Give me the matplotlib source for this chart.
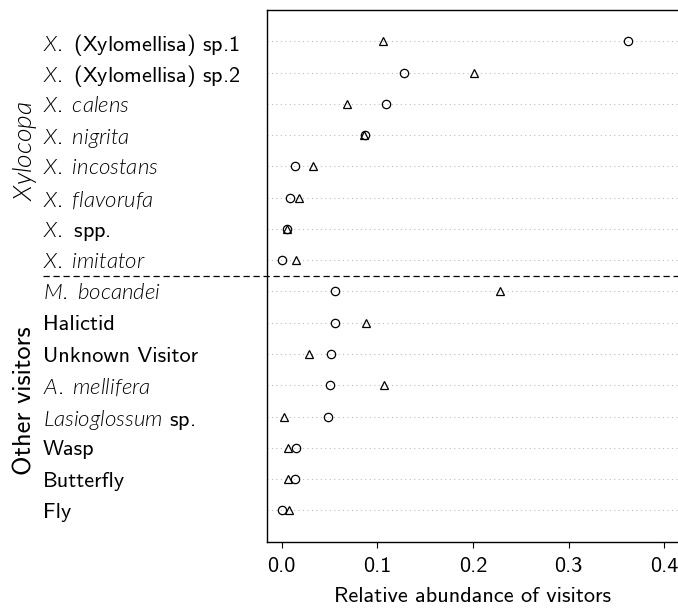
import matplotlib
matplotlib.use("Agg")
import matplotlib.pyplot as plt
import matplotlib.transforms as mtransforms
import numpy as np

# Computer Modern Sans for upright text, a light sans italic for the species names
plt.rcParams['font.family'] = 'cmss10'
plt.rcParams['mathtext.fontset'] = 'custom'
plt.rcParams['mathtext.rm'] = 'cmss10'
plt.rcParams['mathtext.it'] = 'Lato:italic:weight=300'
plt.rcParams['axes.unicode_minus'] = False

visitors = [
    r'$\mathit{X.}$ (Xylomellisa) sp.1',
    r'$\mathit{X.}$ (Xylomellisa) sp.2',
    r'$\mathit{X.\ calens}$',
    r'$\mathit{X.\ nigrita}$',
    r'$\mathit{X.\ incostans}$',
    r'$\mathit{X.\ flavorufa}$',
    r'$\mathit{X.}$ spp.',
    r'$\mathit{X.\ imitator}$',
    r'$\mathit{M.\ bocandei}$',
    'Halictid',
    'Unknown Visitor',
    r'$\mathit{A.\ mellifera}$',
    r'$\mathit{Lasioglossum}$ sp.',
    'Wasp',
    'Butterfly',
    'Fly',
]

# relative abundance, two series (open circles / open triangles)
series_circle = [0.362, 0.128, 0.109, 0.087, 0.014, 0.009, 0.005, 0.000,
                 0.056, 0.056, 0.052, 0.050, 0.048, 0.015, 0.014, 0.000]
series_triangle = [0.106, 0.201, 0.068, 0.086, 0.033, 0.018, 0.005, 0.015,
                   0.228, 0.088, 0.029, 0.107, 0.002, 0.007, 0.007, 0.008]

groups = [r'$\mathit{Xylocopa}$', 'Other visitors']
group_sizes = [8, 8]

fig = plt.figure(figsize=(6.78, 6.08), dpi=100)
ax = fig.add_axes([267 / 678, 66.3 / 608, 411 / 678, 531.7 / 608])

rows = np.arange(1, len(visitors) + 1)

ax.plot(series_circle, rows, linestyle='none', marker='o', markersize=6,
        markerfacecolor='none', markeredgecolor='black', markeredgewidth=0.9,
        zorder=3)
ax.plot(series_triangle, rows, linestyle='none', marker='^', markersize=5.5,
        markerfacecolor='none', markeredgecolor='black', markeredgewidth=0.9,
        zorder=3)

ax.set_ylim(len(visitors) + 1, 0)
ax.set_xlim(-0.0154, 0.4145)

ax.set_yticks(rows)
ax.set_yticklabels(visitors, fontsize=16)
ax.tick_params(axis='y', length=0, pad=161.3)
for lbl in ax.get_yticklabels():
    lbl.set_horizontalalignment('left')

ax.set_xticks([0.0, 0.1, 0.2, 0.3, 0.4])
ax.set_xticklabels(['0.0', '0.1', '0.2', '0.3', '0.4'], fontsize=16)
ax.tick_params(axis='x', direction='out', length=4.3, width=0.8, pad=6.5)
ax.set_xlabel('Relative abundance of visitors', fontsize=16, labelpad=8)

ax.grid(axis='y', color='#bdbdbd', linestyle=(0, (1, 3)), linewidth=0.8)
ax.set_axisbelow(True)

for side in ['left', 'top', 'bottom']:
    ax.spines[side].set_linewidth(1.0)
ax.spines['right'].set_visible(False)

# dashed separator between the two visitor groups, running under the labels
sep = mtransforms.blended_transform_factory(ax.transAxes, ax.transData)
ax.plot([(43 - 267) / 411, 1.0], [group_sizes[0] + 0.5] * 2, transform=sep,
        color='black', linestyle=(0, (5, 3)), linewidth=0.9, clip_on=False)

# rotated group names centred on their rows
start = 1
group_x = fig.transFigure.inverted().transform((25, 0))[0]
for name, size in zip(groups, group_sizes):
    centre = start + (size - 1) / 2
    ypix = ax.transData.transform((0, centre))[1]
    fig.text(group_x, ypix / 608, name, rotation=90, fontsize=19,
             ha='center', va='center')
    start += size

fig.savefig('out.png', dpi=100)
